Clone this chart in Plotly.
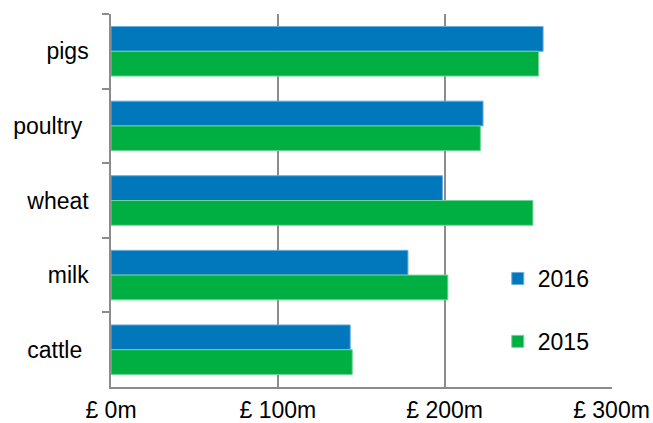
import plotly.graph_objects as go

categories = ["pigs", "poultry\u00a0", "wheat", "milk", "cattle\u00a0"]
values_2016 = [259, 223, 198.7, 178, 143.4]
values_2015 = [256.3, 221.4, 252.9, 201.9, 144.6]
tick_values = [0, 100, 200, 300]
tick_labels = ["£ 0m", "£ 100m", "£ 200m", "£ 300m"]

FONT = "Liberation Sans, Arial, sans-serif"
GRID = "#8c8c8c"

fig = go.Figure()
fig.add_trace(go.Bar(
    y=categories, x=values_2016, name="2016", orientation="h",
    marker=dict(color="#0078BB", line=dict(color="#6aaede", width=1)),
    legendgroup="a",
))
fig.add_trace(go.Bar(
    y=categories, x=values_2015, name="2015", orientation="h",
    marker=dict(color="#00AF42", line=dict(color="#6fd596", width=1)),
    legendgroup="b",
))

fig.update_layout(
    width=653, height=423,
    margin=dict(l=111, r=41, t=14, b=36, pad=0),
    paper_bgcolor="white", plot_bgcolor="white",
    barmode="group", bargap=0.336, bargroupgap=0,
    font=dict(family=FONT, size=23, color="black"),
    showlegend=True,
    legend=dict(
        x=0.772, y=0.3485, xanchor="left", yanchor="top",
        font=dict(family=FONT, size=23, color="black"),
        traceorder="grouped", tracegroupgap=30,
        bgcolor="rgba(0,0,0,0)", itemwidth=30,
    ),
    xaxis=dict(
        range=[0, 300.3], tickvals=tick_values, ticktext=tick_labels,
        showgrid=True, gridcolor=GRID, gridwidth=1.5,
        zeroline=False, showline=True, linecolor=GRID, linewidth=1.5,
        ticks="", ticklabelstandoff=2, automargin=False,
    ),
    yaxis=dict(
        autorange="reversed", type="category",
        showgrid=False, zeroline=False,
        showline=True, linecolor=GRID, linewidth=1.5,
        ticks="outside", ticklen=7, tickwidth=1.5, tickcolor=GRID,
        tickson="boundaries", ticklabelstandoff=16, automargin=False,
    ),
)

fig.write_html("out.html")
